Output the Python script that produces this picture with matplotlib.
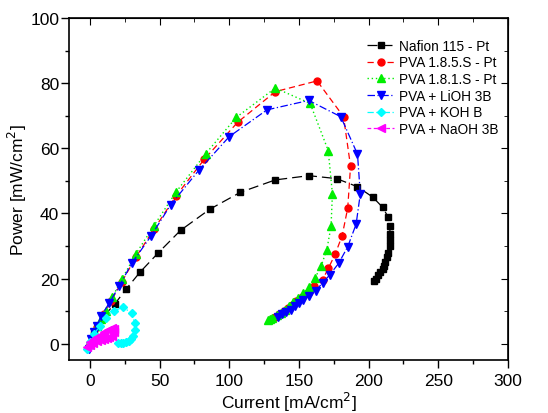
import matplotlib
matplotlib.use("Agg")
import matplotlib.pyplot as plt
from matplotlib.ticker import MultipleLocator

plt.rcParams["font.family"] = ["Liberation Sans", "DejaVu Sans"]

# Nafion 115 - Pt
naf_i = [0.5, 3, 6, 10, 18, 26, 36, 49, 65, 86, 108, 133, 157, 177, 192, 203, 210,
         214, 215, 215.5, 215.6, 215, 214, 213, 212, 211, 210, 208.5, 207, 205.5, 204]
naf_p = [0.3, 3, 5.5, 8.5, 12.3, 16.8, 22, 27.9, 34.8, 41.3, 46.5, 50.3, 51.6, 50.7, 48.2,
         45, 41.9, 38.9, 36, 33.7, 32, 30, 28, 26.5, 25, 24, 23, 22, 21, 20, 19.4]

# PVA 1.8.5.S - Pt
r_i = [0, 2, 5, 10, 15, 23, 33, 46, 62, 82, 106, 133, 163, 182, 187, 185, 181, 176, 171,
       167, 161, 157, 152, 148, 145, 142, 139, 136, 133, 131]
r_p = [0, 2, 5, 9, 13, 19.1, 26.6, 35.2, 45.5, 56.6, 68, 77.4, 80.7, 69.7, 54.5, 41.7,
       33.2, 27.5, 23.1, 19.7, 17.6, 15.8, 14.5, 13, 12, 11, 10, 9, 8.2, 7.7]

# PVA 1.8.1.S - Pt
g_i = [0, 2, 5, 8, 11.5, 16, 23, 33, 46, 62, 83, 105, 133, 158, 171, 174, 173, 170, 166,
       161.6, 157, 153, 149, 146, 143, 140, 137, 134, 131, 129, 128]
g_p = [0, 3, 5.5, 7.5, 10, 14.3, 19.9, 27.6, 36.3, 46.7, 58.3, 69.5, 78.5, 73.8, 59.3, 46,
       36, 28.9, 24, 20.2, 17.4, 15.5, 14, 12.8, 11.6, 10.5, 9.5, 8.7, 8, 7.5, 7.3]

# PVA + LiOH 3B
b_i = [-1, 1, 3, 5, 8, 14, 21, 30, 44, 58, 78, 100, 127, 157, 180, 192, 194, 191, 185,
       178.5, 172, 167, 162, 157, 153, 150, 147, 144, 141, 138, 135]
b_p = [-1.5, 1.5, 3.5, 5.5, 8.5, 12.6, 17.7, 24.7, 33.2, 42.7, 53.2, 63.6, 71.8, 74.7, 69.7,
       58.2, 46, 36.7, 29.8, 24.7, 21.1, 18.7, 16.3, 14.8, 13.5, 12.5, 11.5, 10.5, 9.8, 9, 8.3]

# PVA + KOH B
c_i = [-2, 0, 3, 7, 11.5, 17, 24, 30, 32, 32, 31, 29.5, 28, 26, 24, 22, 20]
c_p = [-1.5, 0.5, 3, 5.4, 8, 10.1, 11.2, 9.3, 6.4, 4.2, 2.5, 1.5, 0.8, 0.4, 0.2, 0.1, 0.2]

# PVA + NaOH 3B
m_i = [-2, 0, 3, 5, 8, 10, 13, 16, 17, 17, 16, 14, 12, 10, 8, 5, 2, 0]
m_p = [-1, 0.5, 1.5, 2, 2.8, 3.5, 4.2, 4.8, 4.5, 3.5, 2.5, 2, 1.8, 1.5, 1.2, 0.8, 0.3, -0.5]

fig = plt.figure(figsize=(5.48, 4.14), dpi=100)
ax = fig.add_axes([0.126, 0.128, 0.801, 0.826])

ms = 5
ax.plot(naf_i, naf_p, color="black", ls=(0, (8, 4)), lw=0.9, marker="s", ms=ms,
        label="Nafion 115 - Pt")
ax.plot(r_i, r_p, color="red", ls=(0, (5, 3)), lw=0.9, marker="o", ms=ms,
        label="PVA 1.8.5.S - Pt")
ax.plot(g_i, g_p, color="#00ee00", ls=(0, (1, 2)), lw=1.0, marker="^", ms=ms + 0.5,
        label="PVA 1.8.1.S - Pt")
ax.plot(b_i, b_p, color="blue", ls=(0, (6, 2, 1, 2)), lw=0.9, marker="v", ms=ms + 0.5,
        label="PVA + LiOH 3B")
ax.plot(c_i, c_p, color="cyan", ls=(0, (5, 2, 1, 2, 1, 2)), lw=0.9, marker="D", ms=ms - 1,
        label="PVA + KOH B")
ax.plot(m_i, m_p, color="magenta", ls=(0, (3, 2)), lw=0.9, marker="<", ms=ms + 0.5,
        label="PVA + NaOH 3B")

ax.set_xlim(-15, 300)
ax.set_ylim(-5, 100)
ax.xaxis.set_major_locator(MultipleLocator(50))
ax.xaxis.set_minor_locator(MultipleLocator(25))
ax.yaxis.set_major_locator(MultipleLocator(20))
ax.yaxis.set_minor_locator(MultipleLocator(10))
ax.tick_params(which="both", direction="out", labelsize=12.5)
ax.tick_params(which="major", length=5.5, width=1)
ax.tick_params(which="minor", length=3, width=1)
ax.tick_params(axis="y", pad=1.5)
for s in ax.spines.values():
    s.set_linewidth(1.2)

top = ax.secondary_xaxis("top")
top.xaxis.set_major_locator(MultipleLocator(50))
top.xaxis.set_minor_locator(MultipleLocator(25))
top.tick_params(which="both", direction="in", labeltop=False)
top.tick_params(which="major", length=5)
top.tick_params(which="minor", length=3)
right = ax.secondary_yaxis("right")
right.yaxis.set_major_locator(MultipleLocator(20))
right.yaxis.set_minor_locator(MultipleLocator(10))
right.tick_params(which="both", direction="in", labelright=False)
right.tick_params(which="major", length=5)
right.tick_params(which="minor", length=3)

ax.set_xlabel("Current [mA/cm$^2$]", fontsize=12.5, labelpad=2)
ax.set_ylabel("Power [mW/cm$^2$]", fontsize=12.5, labelpad=1)

ax.legend(loc="upper left", bbox_to_anchor=(0.679, 0.94), frameon=False, fontsize=9.8,
          handlelength=2.0, handletextpad=0.36, labelspacing=0.2, borderaxespad=0,
          borderpad=0)

fig.savefig("out.png", dpi=100)
